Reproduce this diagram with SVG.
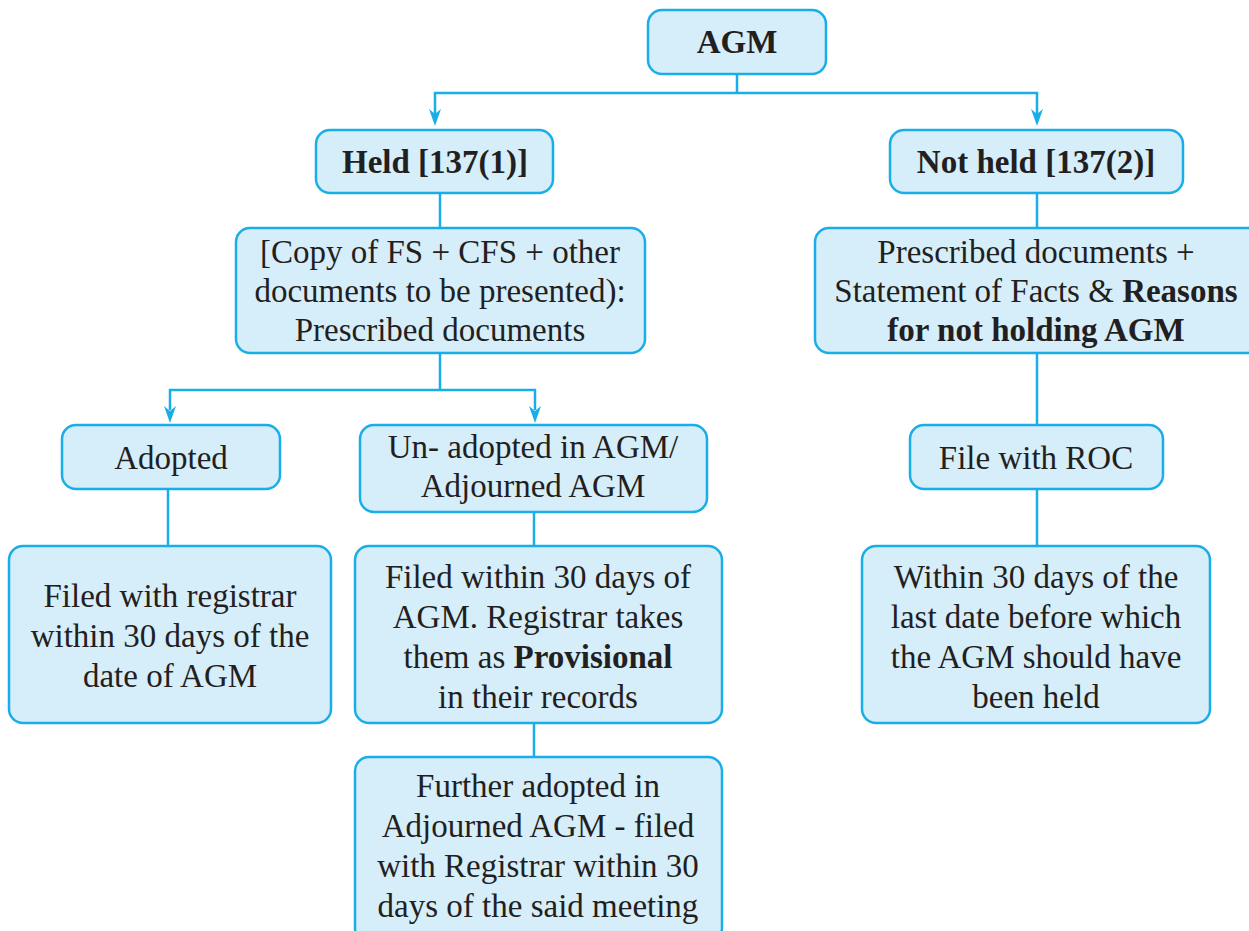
<svg xmlns="http://www.w3.org/2000/svg" width="1249" height="931" viewBox="0 0 1249 931">
<defs>
<style>
.box{fill:#D6EDFA;stroke:#1AAEE8;stroke-width:2.5}
.ln{fill:none;stroke:#1AAEE8;stroke-width:2.5}
.ah{fill:#1AAEE8}
text{font-family:"Liberation Serif","DejaVu Serif",serif;font-size:33px;fill:#231F20;text-anchor:middle}
.b{font-weight:bold}
</style>
</defs>
<rect width="1249" height="931" fill="#fff"/>
<g id="connectors">
<path class="ln" d="M737,74 V93"/>
<path class="ln" d="M435,114 V93 H1037 V114"/>
<path class="ln" d="M440,193 V228"/>
<path class="ln" d="M1037,193 V228"/>
<path class="ln" d="M440,353 V390"/>
<path class="ln" d="M170,410 V390 H535 V410"/>
<path class="ln" d="M168,489 V546"/>
<path class="ln" d="M534,512 V546"/>
<path class="ln" d="M534,723 V757"/>
<path class="ln" d="M1037,353 V425"/>
<path class="ln" d="M1037,489 V546"/>
<path class="ah" d="M429,109 L435,114 L441,109 L435,126 Z"/>
<path class="ah" d="M1031,109 L1037,114 L1043,109 L1037,126 Z"/>
<path class="ah" d="M164,406 L170,411 L176,406 L170,423 Z"/>
<path class="ah" d="M529,406 L535,411 L541,406 L535,423 Z"/>
</g>
<g id="agm"><rect class="box" x="648" y="10" width="178" height="64" rx="14"/><text class="b" x="737" y="53">AGM</text></g>
<g id="held"><rect class="box" x="316" y="130" width="237" height="63" rx="14"/><text class="b" x="435" y="173">Held [137(1)]</text></g>
<g id="notheld"><rect class="box" x="890" y="130" width="293" height="63" rx="14"/><text class="b" x="1036" y="173">Not held [137(2)]</text></g>
<g id="copy"><rect class="box" x="236" y="228" width="409" height="125" rx="14"/>
<text x="440" y="263">[Copy of FS + CFS + other</text>
<text x="440" y="302">documents to be presented):</text>
<text x="440" y="341">Prescribed documents</text></g>
<g id="prescribed"><rect class="box" x="815" y="228" width="450" height="125" rx="14"/>
<text x="1036" y="263">Prescribed documents +</text>
<text x="1036" y="302">Statement of Facts &amp; <tspan class="b">Reasons</tspan></text>
<text class="b" x="1036" y="341">for not holding AGM</text></g>
<g id="adopted"><rect class="box" x="62" y="425" width="218" height="64" rx="14"/><text x="171" y="469">Adopted</text></g>
<g id="unadopted"><rect class="box" x="360" y="425" width="347" height="87" rx="14"/>
<text x="533" y="458">Un- adopted in AGM/</text>
<text x="533" y="497">Adjourned AGM</text></g>
<g id="filewithroc"><rect class="box" x="910" y="425" width="253" height="64" rx="14"/><text x="1036" y="469">File with ROC</text></g>
<g id="filedreg"><rect class="box" x="9" y="546" width="322" height="177" rx="14"/>
<text x="170" y="607">Filed with registrar</text>
<text x="170" y="647">within 30 days of the</text>
<text x="170" y="687">date of AGM</text></g>
<g id="filedwithin"><rect class="box" x="355" y="546" width="367" height="177" rx="14"/>
<text x="538" y="588">Filed within 30 days of</text>
<text x="538" y="628">AGM. Registrar takes</text>
<text x="538" y="668">them as <tspan class="b">Provisional</tspan></text>
<text x="538" y="708">in their records</text></g>
<g id="further"><rect class="box" x="355" y="757" width="367" height="185" rx="14"/>
<text x="538" y="797">Further adopted in</text>
<text x="538" y="837">Adjourned AGM - filed</text>
<text x="538" y="877">with Registrar within 30</text>
<text x="538" y="917">days of the said meeting</text></g>
<g id="within"><rect class="box" x="862" y="546" width="348" height="177" rx="14"/>
<text x="1036" y="588">Within 30 days of the</text>
<text x="1036" y="628">last date before which</text>
<text x="1036" y="668">the AGM should have</text>
<text x="1036" y="708">been held</text></g>
</svg>
